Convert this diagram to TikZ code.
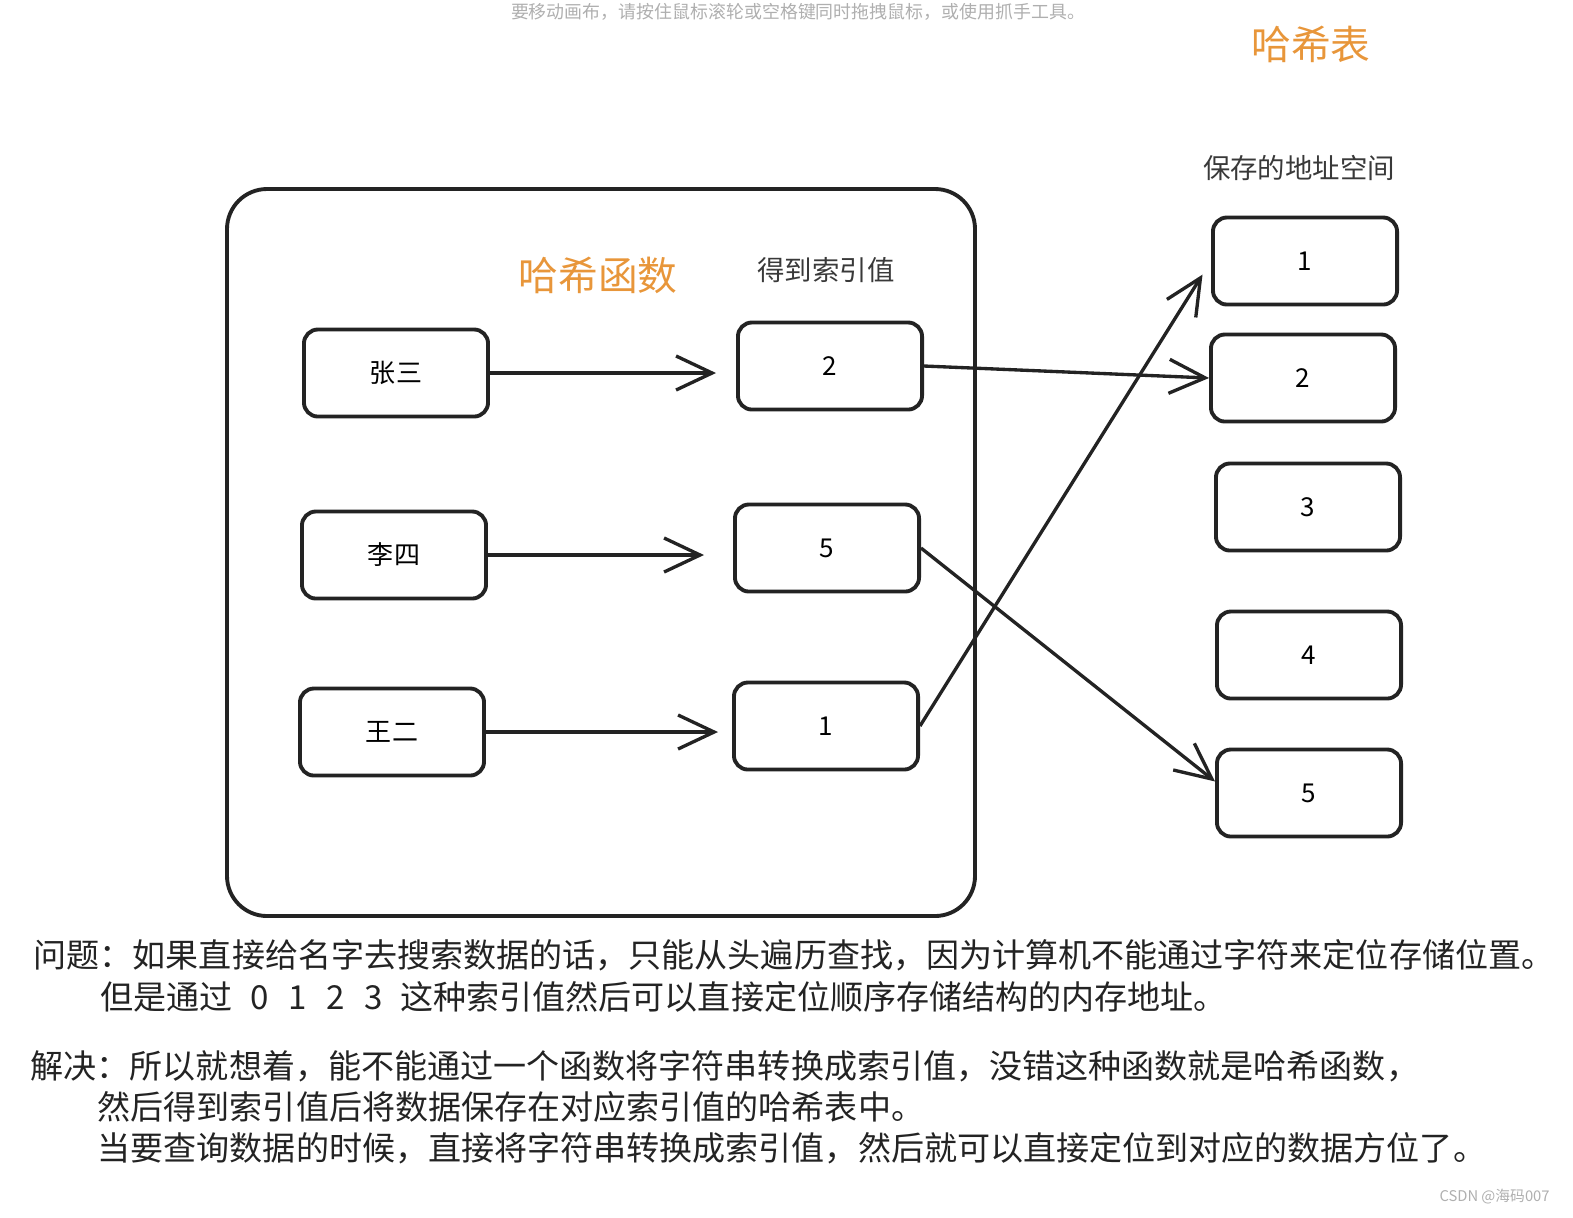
\documentclass[tikz,border=0pt]{standalone}
\usepackage{fontspec}
\setmainfont{Noto Sans CJK SC}
\usetikzlibrary{arrows.meta}
\definecolor{hashorange}{RGB}{232,150,58}
\definecolor{inkgray}{RGB}{35,35,35}
\definecolor{hintgray}{RGB}{175,175,175}

\begin{document}
\begin{tikzpicture}[x=0.01cm,y=-0.01cm,
	cell/.style={draw=inkgray,line width=1.1pt,rounded corners=0.14cm,minimum width=1.84cm,minimum height=0.87cm,font=\fontsize{7.4pt}{9pt}\selectfont},
	link/.style={draw=inkgray,line width=0.95pt,-{Straight Barb[length=0.36cm,width=0.34cm]}},
	title/.style={text=hashorange,font=\fontsize{11.3pt}{13pt}\selectfont},
	caption/.style={text=inkgray!90,font=\fontsize{7.8pt}{9pt}\selectfont},
	note/.style={anchor=west,inner sep=0pt,text=inkgray,font=\fontsize{9.4pt}{11pt}\selectfont}]
	\useasboundingbox (0,0) rectangle (1573,1217);
	\node[text=hintgray,font=\fontsize{5.1pt}{6pt}\selectfont] (hint) at (798,12) {要移动画布，请按住鼠标滚轮或空格键同时拖拽鼠标，或使用抓手工具。};
	\draw[inkgray,line width=1.1pt,rounded corners=0.4cm] (227,189) rectangle (975,916);
	\node[title] (fnlabel) at (598,275) {哈希函数};
	\node[caption] (idxlabel) at (826,270) {得到索引值};
	\node[title] (tablabel) at (1311,44) {哈希表};
	\node[caption] (addrlabel) at (1299,168) {保存的地址空间};
	\node[cell] (zs) at (396,373) {张三};
	\node[cell] (ls) at (394,555) {李四};
	\node[cell] (we) at (392,732) {王二};
	\node[cell] (v2) at (830,366) {2};
	\node[cell] (v5) at (827,548) {5};
	\node[cell] (v1) at (826,726) {1};
	\node[cell] (t1) at (1305,261) {1};
	\node[cell] (t2) at (1303,378) {2};
	\node[cell] (t3) at (1308,507) {3};
	\node[cell] (t4) at (1309,655) {4};
	\node[cell] (t5) at (1309,793) {5};
	\draw[link,shorten >=0.2cm] (zs.east) -- (v2.west|-zs.east);
	\draw[link,shorten >=0.29cm] (ls.east) -- (v5.west|-ls.east);
	\draw[link,shorten >=0.14cm] (we.east) -- (v1.west|-we.east);
	\draw[link] (v2.east) -- (t2.west);
	\draw[link] (v5.east) -- (t5.173);
	\draw[link,shorten >=0.16cm] (v1.east) -- (t1.west);
	\node[note] (q1) at (33,955) {问题：如果直接给名字去搜索数据的话，只能从头遍历查找，因为计算机不能通过字符来定位存储位置。};
	\node[note] (q2) at (100,997) {但是通过\hspace{0.3em} 0\hspace{0.6em}1\hspace{0.6em}2\hspace{0.6em}3\hspace{0.3em} 这种索引值然后可以直接定位顺序存储结构的内存地址。};
	\node[note] (a1) at (30,1066) {解决：所以就想着，能不能通过一个函数将字符串转换成索引值，没错这种函数就是哈希函数，};
	\node[note] (a2) at (97,1107) {然后得到索引值后将数据保存在对应索引值的哈希表中。};
	\node[note] (a3) at (97,1148) {当要查询数据的时候，直接将字符串转换成索引值，然后就可以直接定位到对应的数据方位了。};
	\node[anchor=east,text=hintgray,font=\fontsize{4.2pt}{5pt}\selectfont] (mark) at (1562,1197) {CSDN @海码007};
\end{tikzpicture}
\end{document}
